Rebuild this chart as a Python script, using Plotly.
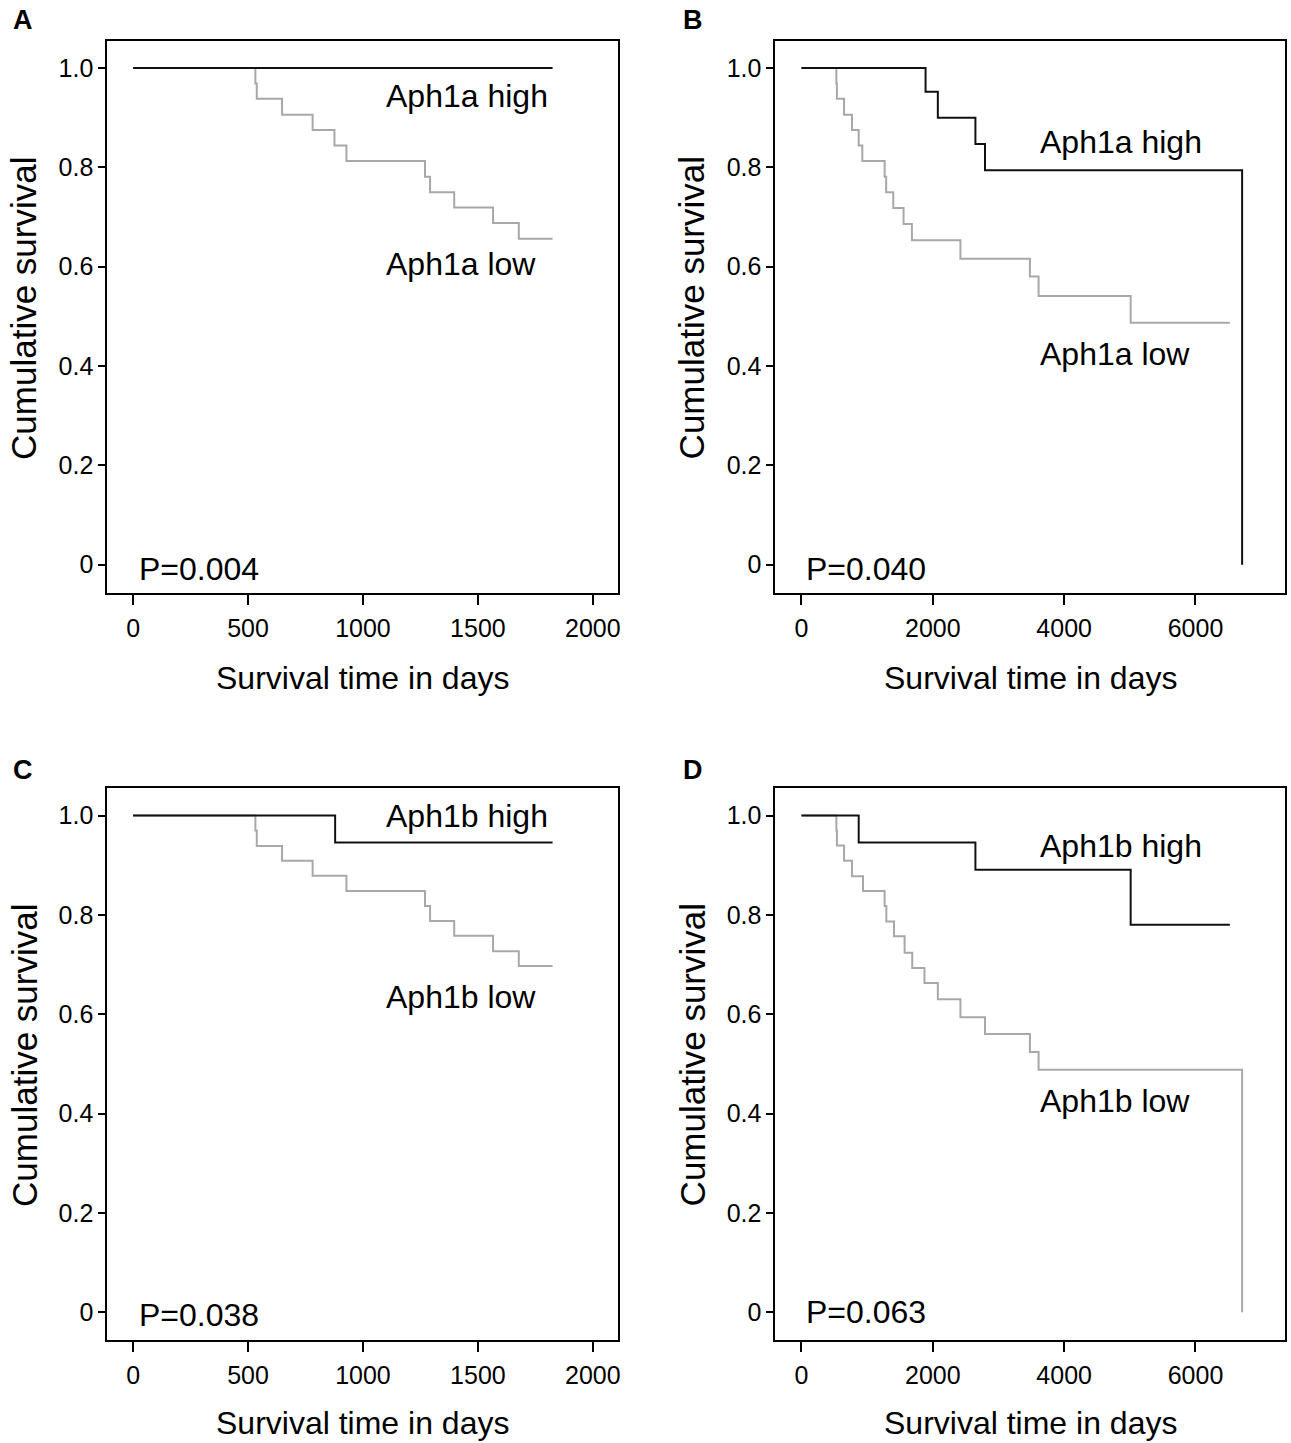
import plotly.graph_objects as go

# ---------------- data (days, cumulative survival) ----------------
A_high_t = [0, 1825]
A_high_s = [1.0, 1.0]
A_low_t = [0, 532, 538, 648, 781, 876, 928, 1270, 1292, 1397, 1566, 1678, 1825]
A_low_s = [1.0, 0.969, 0.938, 0.906, 0.875, 0.844, 0.813, 0.781, 0.750, 0.719, 0.688, 0.656, 0.656]

B_high_t = [0, 1890, 2077, 2649, 2795, 6710, 6710]
B_high_s = [1.0, 0.952, 0.900, 0.847, 0.794, 0.794, 0.0]
B_low_t = [0, 532, 540, 649, 770, 872, 927, 1267, 1290, 1398, 1555, 1682, 2421, 3479, 3611, 5013, 6523]
B_low_s = [1.0, 0.969, 0.938, 0.906, 0.875, 0.844, 0.813, 0.781, 0.750, 0.718, 0.686, 0.653, 0.616, 0.580, 0.541, 0.487, 0.487]

C_high_t = [0, 879, 1825]
C_high_s = [1.0, 0.946, 0.946]
C_low_t = [0, 532, 538, 648, 781, 928, 1270, 1292, 1397, 1566, 1678, 1825]
C_low_s = [1.0, 0.970, 0.939, 0.909, 0.879, 0.848, 0.818, 0.788, 0.758, 0.727, 0.697, 0.697]

D_high_t = [0, 872, 2649, 5013, 6523]
D_high_s = [1.0, 0.946, 0.891, 0.780, 0.780]
D_low_t = [0, 532, 540, 649, 770, 937, 1267, 1293, 1410, 1571, 1687, 1873, 2077, 2421, 2795, 3479, 3611, 6710, 6710]
D_low_s = [1.0, 0.970, 0.940, 0.909, 0.878, 0.848, 0.818, 0.787, 0.757, 0.724, 0.693, 0.663, 0.630, 0.594, 0.560, 0.524, 0.488, 0.488, 0.0]

panel_letters = ["A", "B", "C", "D"]
high_labels = ["Aph1a high", "Aph1a high", "Aph1b high", "Aph1b high"]
low_labels = ["Aph1a low", "Aph1a low", "Aph1b low", "Aph1b low"]
p_values = ["P=0.004", "P=0.040", "P=0.038", "P=0.063"]

y_tickvals = [0, 0.2, 0.4, 0.6, 0.8, 1.0]
y_ticktext = ["0", "0.2", "0.4", "0.6", "0.8", "1.0"]
x_ticks_short = [0, 500, 1000, 1500, 2000]
x_ticks_long = [0, 2000, 4000, 6000]

# ---------------- layout geometry ----------------
W, H = 1291, 1443
FONT = "Liberation Sans, Arial, sans-serif"

def px_x(p):
    return p / W

def px_y(p):
    return 1 - p / H

col_dom = [[px_x(107.6), px_x(619.3)], [px_x(777.3), px_x(1288)]]
row_dom = [[px_y(592.5), px_y(40.7)], [px_y(1340), px_y(788.3)]]
x_ranges = [[-112, 2109], [-395, 7363]]
y_range = [-0.056, 1.055]

curves = [
    (A_high_t, A_high_s, A_low_t, A_low_s),
    (B_high_t, B_high_s, B_low_t, B_low_s),
    (C_high_t, C_high_s, C_low_t, C_low_s),
    (D_high_t, D_high_s, D_low_t, D_low_s),
]

# label positions in data coordinates (x, y) per panel
high_pos = [(1092, 0.944), (3596, 0.852), (1092, 1.0), (3596, 0.938)]
low_pos = [(1092, 0.606), (3596, 0.425), (1092, 0.634), (3596, 0.425)]
p_pos = [(16, -0.008), (41, -0.008), (16, -0.006), (41, 0.0)]

fig = go.Figure()
layout = dict(
    width=W, height=H,
    margin=dict(l=0, r=0, t=0, b=0),
    paper_bgcolor="white", plot_bgcolor="white",
    showlegend=False,
    font=dict(family=FONT, color="black"),
)
annotations = []

for i in range(4):
    r, c = divmod(i, 2)
    n = "" if i == 0 else str(i + 1)
    xa, ya = "x" + n, "y" + n
    ht, hs, lt, ls = curves[i]
    fig.add_trace(go.Scatter(x=lt, y=ls, mode="lines", line=dict(color="#a8a8a8", width=2, shape="hv"),
                             xaxis=xa, yaxis=ya, hoverinfo="skip"))
    fig.add_trace(go.Scatter(x=ht, y=hs, mode="lines", line=dict(color="#111111", width=2, shape="hv"),
                             xaxis=xa, yaxis=ya, hoverinfo="skip"))
    xticks = x_ticks_short if c == 0 else x_ticks_long
    layout["xaxis" + n] = dict(
        domain=col_dom[c], range=x_ranges[c], anchor=ya,
        showgrid=False, zeroline=False, showline=True, mirror=True, linecolor="black", linewidth=2,
        ticks="outside", ticklen=10, tickwidth=2, tickcolor="black",
        tickvals=xticks, ticktext=[str(v) for v in xticks],
        tickfont=dict(size=25, family=FONT), ticklabelstandoff=2,
    )
    layout["yaxis" + n] = dict(
        domain=row_dom[r], range=y_range, anchor=xa,
        showgrid=False, zeroline=False, showline=True, mirror=True, linecolor="black", linewidth=2,
        ticks="outside", ticklen=7, tickwidth=2, tickcolor="black",
        tickvals=y_tickvals, ticktext=y_ticktext,
        tickfont=dict(size=25, family=FONT),
    )
    # curve labels
    for (tx, ty), txt in ((high_pos[i], high_labels[i]), (low_pos[i], low_labels[i]), (p_pos[i], p_values[i])):
        annotations.append(dict(x=tx, y=ty, xref=xa, yref=ya, text=txt, showarrow=False,
                                xanchor="left", yanchor="middle", font=dict(size=32, family=FONT)))
    # axis titles
    x_center = (col_dom[c][0] + col_dom[c][1]) / 2
    annotations.append(dict(x=x_center, y=px_y(678 if r == 0 else 1423), xref="paper", yref="paper",
                            text="Survival time in days", showarrow=False, xanchor="center", yanchor="middle",
                            font=dict(size=32, family=FONT)))
    annotations.append(dict(x=px_x(24 if c == 0 else 694), y=px_y(308 if r == 0 else 1055), xref="paper", yref="paper",
                            text="Cumulative survival", textangle=-90, showarrow=False,
                            xanchor="center", yanchor="middle", font=dict(size=35, family=FONT)))
    # panel letter
    annotations.append(dict(x=px_x(23 if c == 0 else 695), y=px_y(20 if r == 0 else 770), xref="paper", yref="paper",
                            text="<b>" + panel_letters[i] + "</b>", showarrow=False,
                            xanchor="center", yanchor="middle", font=dict(size=27, family=FONT)))

layout["annotations"] = annotations
fig.update_layout(**layout)
fig.write_html("out.html", config={"displayModeBar": False, "staticPlot": True},
               post_script="document.body.style.margin='0px';document.body.style.overflow='hidden';")
